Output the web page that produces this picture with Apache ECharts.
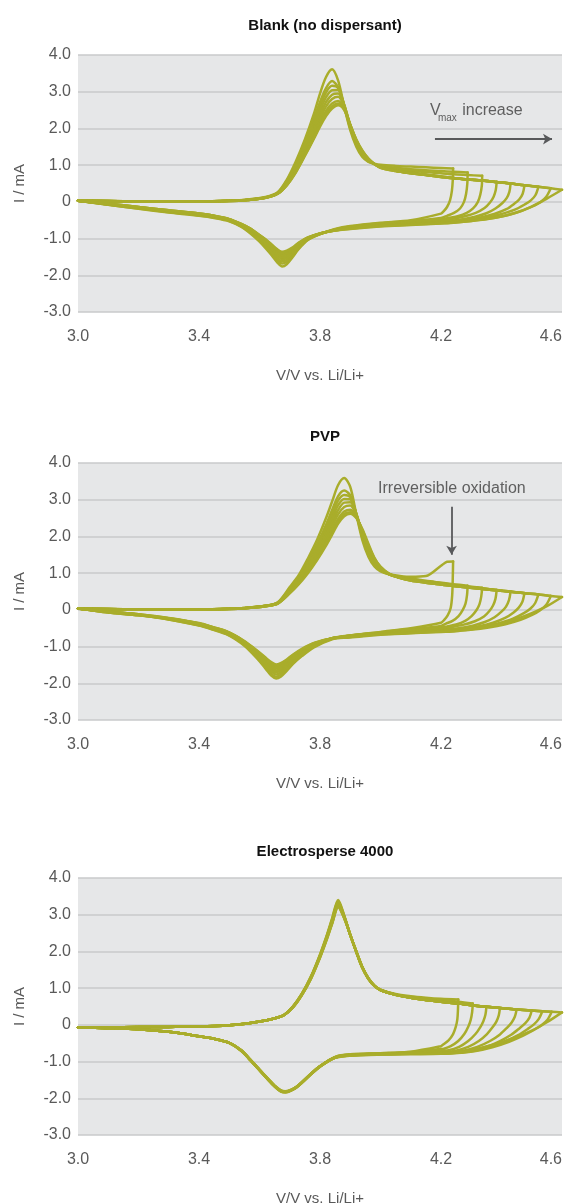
<!DOCTYPE html>
<html>
<head>
<meta charset="utf-8">
<script src="https://cdn.jsdelivr.net/npm/echarts@6/dist/echarts.min.js"></script>
<style>
html,body{margin:0;padding:0;background:#fff;}
#c{width:568px;height:1204px;}
</style>
</head>
<body>
<div id="c"></div>
<script>
// ---------- labels ----------
const panelTitles = ['Blank (no dispersant)', 'PVP', 'Electrosperse 4000'];
const xTicks = [3.0, 3.4, 3.8, 4.2, 4.6];
const xName = 'V/V vs. Li/Li+';
const yName = 'I / mA';

// ---------- Panel 1: Blank ----------
const blankAnodicV = [3.0,3.1,3.2,3.3,3.4,3.5,3.56,3.62,3.66,3.69,3.72,3.75,3.78,3.8,3.82,3.84,3.86,3.88,3.9,3.92,3.94,3.96,3.98,4.0,4.05,4.1,4.15,4.2];
const blankVmax = [4.24,4.288,4.336,4.384,4.43,4.476,4.522,4.563,4.6];
const blankAnodicI = [
 [0.04,0.02,0.01,0.01,0.01,0.03,0.06,0.13,0.26,0.6,1.1,1.7,2.4,2.95,3.4,3.61,3.3,2.6,1.95,1.5,1.22,1.09,1.04,1.01,0.98,0.96,0.94,0.92,0.91],
 [0.04,0.02,0.01,0.01,0.01,0.03,0.06,0.12,0.25,0.57,1.03,1.6,2.25,2.72,3.1,3.29,3.12,2.6,2.0,1.55,1.26,1.1,1.03,0.98,0.93,0.89,0.86,0.84,0.82,0.80],
 [0.04,0.02,0.01,0.01,0.01,0.03,0.06,0.12,0.24,0.54,0.98,1.52,2.14,2.6,2.98,3.16,3.1,2.62,2.03,1.58,1.28,1.12,1.03,0.96,0.9,0.85,0.81,0.78,0.75,0.73,0.71],
 [0.04,0.02,0.01,0.0,0.01,0.03,0.05,0.12,0.24,0.52,0.94,1.46,2.05,2.48,2.85,3.04,3.05,2.65,2.06,1.6,1.3,1.13,1.02,0.95,0.87,0.8,0.74,0.69,0.65,0.61,0.58,0.54],
 [0.04,0.02,0.01,0.0,0.01,0.03,0.05,0.11,0.23,0.5,0.9,1.4,1.96,2.37,2.72,2.92,2.95,2.64,2.08,1.63,1.33,1.15,1.03,0.95,0.86,0.79,0.74,0.69,0.65,0.61,0.58,0.54,0.5],
 [0.03,0.02,0.01,0.0,0.0,0.02,0.05,0.11,0.23,0.48,0.86,1.34,1.88,2.27,2.6,2.8,2.86,2.6,2.09,1.65,1.35,1.16,1.03,0.94,0.85,0.79,0.74,0.69,0.65,0.61,0.58,0.54,0.5,0.45],
 [0.03,0.01,0.0,0.0,0.0,0.02,0.05,0.11,0.22,0.46,0.83,1.29,1.8,2.18,2.48,2.68,2.75,2.55,2.1,1.68,1.37,1.17,1.03,0.94,0.85,0.78,0.73,0.68,0.64,0.61,0.58,0.54,0.5,0.45,0.41],
 [0.03,0.01,0.0,0.0,0.0,0.02,0.05,0.11,0.22,0.45,0.81,1.27,1.75,2.1,2.4,2.6,2.68,2.52,2.1,1.69,1.39,1.18,1.03,0.93,0.84,0.78,0.73,0.68,0.64,0.61,0.58,0.54,0.5,0.45,0.41,0.37],
 [0.03,0.01,0.0,0.0,0.0,0.02,0.05,0.11,0.22,0.45,0.8,1.25,1.72,2.05,2.34,2.54,2.63,2.5,2.1,1.7,1.4,1.18,1.03,0.93,0.84,0.78,0.73,0.68,0.64,0.61,0.58,0.54,0.5,0.45,0.41,0.37,0.33]
];
const blankReturn = [
 [[4.239,0.6],[4.236,0.3],[4.23,0.05],[4.22,-0.14],[4.207,-0.27]],
 [[4.287,0.5],[4.283,0.22],[4.276,0.0],[4.263,-0.18],[4.243,-0.3],[4.22,-0.38]],
 [[4.335,0.45],[4.33,0.2],[4.322,0.0],[4.306,-0.18],[4.285,-0.3],[4.255,-0.39],[4.225,-0.44]],
 [[4.381,0.32],[4.374,0.14],[4.362,-0.02],[4.344,-0.17],[4.315,-0.3],[4.275,-0.4],[4.235,-0.47]],
 [[4.426,0.27],[4.417,0.1],[4.403,-0.03],[4.38,-0.18],[4.35,-0.31],[4.31,-0.41],[4.26,-0.49],[4.225,-0.53]],
 [[4.47,0.22],[4.459,0.07],[4.444,-0.04],[4.416,-0.2],[4.376,-0.33],[4.326,-0.43],[4.276,-0.5],[4.235,-0.54]],
 [[4.512,0.18],[4.497,0.04],[4.477,-0.07],[4.442,-0.22],[4.392,-0.35],[4.342,-0.44],[4.285,-0.51],[4.24,-0.55]],
 [[4.548,0.14],[4.53,0.0],[4.505,-0.11],[4.465,-0.25],[4.415,-0.37],[4.36,-0.46],[4.3,-0.52],[4.245,-0.56]],
 [[4.55,0.09],[4.5,-0.13],[4.45,-0.29],[4.4,-0.4],[4.35,-0.47],[4.3,-0.52],[4.25,-0.56]]
];
const blankCathodicV = [4.2,4.1,4.0,3.9,3.85,3.8,3.76,3.73,3.71,3.69,3.675,3.66,3.64,3.62,3.6,3.57,3.54,3.5,3.45,3.4,3.3,3.2,3.1,3.0];
const blankCathodicI = [
 [-0.32,-0.5,-0.57,-0.66,-0.74,-0.88,-1.04,-1.28,-1.5,-1.7,-1.76,-1.66,-1.45,-1.26,-1.08,-0.86,-0.68,-0.53,-0.44,-0.38,-0.29,-0.19,-0.08,0.03],
 [-0.44,-0.52,-0.58,-0.67,-0.75,-0.88,-1.03,-1.26,-1.46,-1.63,-1.68,-1.6,-1.4,-1.22,-1.05,-0.84,-0.67,-0.52,-0.43,-0.37,-0.28,-0.18,-0.08,0.03],
 [-0.47,-0.54,-0.6,-0.68,-0.75,-0.88,-1.02,-1.24,-1.42,-1.58,-1.62,-1.54,-1.36,-1.18,-1.02,-0.82,-0.66,-0.51,-0.42,-0.36,-0.27,-0.17,-0.07,0.03],
 [-0.51,-0.56,-0.61,-0.69,-0.76,-0.87,-1.01,-1.21,-1.38,-1.52,-1.56,-1.48,-1.31,-1.14,-0.99,-0.8,-0.64,-0.5,-0.41,-0.35,-0.26,-0.16,-0.07,0.03],
 [-0.54,-0.58,-0.63,-0.7,-0.77,-0.87,-1.0,-1.19,-1.35,-1.47,-1.5,-1.43,-1.27,-1.11,-0.97,-0.78,-0.63,-0.49,-0.4,-0.34,-0.25,-0.16,-0.06,0.03],
 [-0.56,-0.6,-0.64,-0.71,-0.77,-0.87,-0.99,-1.16,-1.31,-1.42,-1.45,-1.38,-1.23,-1.07,-0.94,-0.76,-0.62,-0.48,-0.39,-0.33,-0.24,-0.15,-0.06,0.03],
 [-0.57,-0.61,-0.65,-0.72,-0.78,-0.86,-0.98,-1.14,-1.28,-1.38,-1.41,-1.34,-1.19,-1.04,-0.92,-0.74,-0.61,-0.47,-0.38,-0.32,-0.23,-0.14,-0.05,0.03],
 [-0.58,-0.62,-0.66,-0.73,-0.78,-0.86,-0.97,-1.12,-1.26,-1.35,-1.38,-1.32,-1.17,-1.03,-0.91,-0.73,-0.6,-0.47,-0.38,-0.32,-0.23,-0.14,-0.05,0.03],
 [-0.59,-0.63,-0.67,-0.74,-0.78,-0.86,-0.97,-1.11,-1.24,-1.33,-1.36,-1.3,-1.16,-1.02,-0.9,-0.73,-0.6,-0.47,-0.38,-0.32,-0.23,-0.14,-0.05,0.03]
];

// ---------- Panel 2: PVP ----------
const pvpAnodicV = [3.0,3.1,3.2,3.3,3.4,3.5,3.56,3.62,3.66,3.7,3.73,3.76,3.79,3.82,3.84,3.86,3.88,3.9,3.92,3.94,3.96,3.98,4.0,4.03,4.06,4.1,4.15,4.2,4.22];
const pvpVmax = [4.24,4.288,4.336,4.384,4.43,4.476,4.522,4.563,4.6];
const pvpAnodicI = [
 [0.04,0.02,0.01,0.01,0.01,0.03,0.06,0.11,0.2,0.62,0.95,1.4,1.9,2.5,2.95,3.4,3.59,3.35,2.6,1.9,1.45,1.18,1.05,0.97,0.93,0.9,0.92,1.2,1.31,1.32],
 [0.04,0.02,0.01,0.01,0.01,0.03,0.06,0.11,0.2,0.58,0.9,1.32,1.78,2.32,2.72,3.1,3.25,3.12,2.6,1.98,1.52,1.23,1.07,0.96,0.9,0.85,0.79,0.74,0.72,0.7,0.66],
 [0.04,0.02,0.01,0.01,0.01,0.03,0.06,0.11,0.19,0.56,0.87,1.27,1.71,2.22,2.6,2.98,3.13,3.07,2.62,2.03,1.56,1.26,1.09,0.96,0.89,0.84,0.78,0.73,0.71,0.68,0.64,0.6],
 [0.04,0.02,0.01,0.0,0.01,0.03,0.05,0.11,0.19,0.53,0.83,1.22,1.64,2.13,2.48,2.85,3.02,3.01,2.62,2.07,1.6,1.3,1.11,0.96,0.89,0.83,0.77,0.72,0.7,0.67,0.63,0.59,0.54],
 [0.04,0.02,0.01,0.0,0.01,0.03,0.05,0.11,0.18,0.51,0.8,1.17,1.57,2.04,2.37,2.72,2.92,2.93,2.6,2.1,1.64,1.33,1.13,0.97,0.89,0.82,0.76,0.71,0.69,0.66,0.62,0.58,0.54,0.5],
 [0.03,0.02,0.01,0.0,0.0,0.02,0.05,0.1,0.18,0.49,0.77,1.12,1.5,1.95,2.27,2.6,2.8,2.84,2.57,2.12,1.68,1.36,1.15,0.97,0.89,0.81,0.75,0.7,0.68,0.66,0.62,0.58,0.54,0.5,0.46],
 [0.03,0.01,0.0,0.0,0.0,0.02,0.05,0.1,0.17,0.47,0.74,1.07,1.44,1.86,2.17,2.48,2.68,2.73,2.54,2.15,1.72,1.38,1.16,0.97,0.88,0.8,0.74,0.69,0.67,0.65,0.61,0.57,0.53,0.49,0.45,0.42],
 [0.03,0.01,0.0,0.0,0.0,0.02,0.05,0.1,0.17,0.46,0.72,1.03,1.39,1.8,2.1,2.41,2.61,2.66,2.52,2.18,1.76,1.4,1.17,0.97,0.88,0.8,0.74,0.69,0.67,0.65,0.61,0.57,0.53,0.49,0.45,0.42,0.38],
 [0.03,0.01,0.0,0.0,0.0,0.02,0.05,0.1,0.17,0.45,0.7,1.0,1.35,1.75,2.05,2.35,2.55,2.62,2.5,2.2,1.8,1.42,1.18,0.98,0.88,0.8,0.74,0.69,0.67,0.65,0.61,0.57,0.53,0.49,0.45,0.42,0.38,0.35]
];
const pvpReturn = [
 [[4.239,0.9],[4.237,0.4],[4.232,0.05],[4.222,-0.15],[4.21,-0.28]],
 [[4.286,0.4],[4.281,0.17],[4.272,0.0],[4.258,-0.17],[4.238,-0.3],[4.215,-0.38]],
 [[4.333,0.36],[4.327,0.15],[4.317,-0.01],[4.301,-0.17],[4.28,-0.3],[4.25,-0.4],[4.22,-0.45]],
 [[4.38,0.3],[4.372,0.12],[4.36,-0.03],[4.342,-0.18],[4.312,-0.31],[4.272,-0.41],[4.232,-0.47]],
 [[4.425,0.27],[4.415,0.09],[4.4,-0.05],[4.377,-0.2],[4.345,-0.33],[4.305,-0.43],[4.26,-0.5],[4.225,-0.53]],
 [[4.469,0.22],[4.457,0.06],[4.44,-0.07],[4.412,-0.22],[4.372,-0.35],[4.322,-0.45],[4.272,-0.51],[4.232,-0.55]],
 [[4.511,0.18],[4.495,0.03],[4.474,-0.09],[4.438,-0.24],[4.388,-0.37],[4.338,-0.46],[4.282,-0.52],[4.237,-0.56]],
 [[4.548,0.14],[4.528,-0.01],[4.503,-0.13],[4.463,-0.27],[4.413,-0.39],[4.358,-0.48],[4.298,-0.54],[4.243,-0.57]],
 [[4.55,0.1],[4.5,-0.09],[4.45,-0.25],[4.4,-0.38],[4.35,-0.47],[4.3,-0.53],[4.25,-0.58]]
];
const pvpCathodicV = [4.2,4.1,4.0,3.9,3.84,3.78,3.74,3.71,3.69,3.67,3.655,3.64,3.62,3.6,3.58,3.55,3.52,3.49,3.45,3.4,3.3,3.2,3.1,3.0];
const pvpCathodicI = [
 [-0.35,-0.5,-0.6,-0.7,-0.8,-1.02,-1.26,-1.48,-1.66,-1.82,-1.87,-1.8,-1.6,-1.4,-1.22,-0.98,-0.8,-0.66,-0.55,-0.43,-0.26,-0.15,-0.07,0.04],
 [-0.44,-0.52,-0.61,-0.7,-0.79,-1.0,-1.24,-1.45,-1.62,-1.77,-1.82,-1.75,-1.56,-1.37,-1.2,-0.96,-0.78,-0.65,-0.54,-0.42,-0.26,-0.15,-0.07,0.04],
 [-0.48,-0.54,-0.62,-0.7,-0.78,-0.98,-1.21,-1.41,-1.57,-1.71,-1.76,-1.69,-1.51,-1.33,-1.17,-0.94,-0.77,-0.64,-0.53,-0.41,-0.25,-0.14,-0.06,0.04],
 [-0.51,-0.56,-0.63,-0.7,-0.77,-0.96,-1.18,-1.37,-1.52,-1.65,-1.7,-1.63,-1.46,-1.29,-1.14,-0.92,-0.75,-0.62,-0.52,-0.4,-0.25,-0.14,-0.06,0.04],
 [-0.55,-0.58,-0.64,-0.71,-0.77,-0.95,-1.15,-1.34,-1.48,-1.6,-1.65,-1.58,-1.42,-1.26,-1.11,-0.9,-0.74,-0.61,-0.51,-0.39,-0.24,-0.13,-0.05,0.04],
 [-0.57,-0.61,-0.65,-0.72,-0.77,-0.93,-1.12,-1.3,-1.44,-1.55,-1.6,-1.53,-1.38,-1.23,-1.08,-0.88,-0.72,-0.6,-0.5,-0.38,-0.24,-0.13,-0.05,0.04],
 [-0.58,-0.62,-0.66,-0.73,-0.77,-0.92,-1.1,-1.27,-1.4,-1.51,-1.56,-1.49,-1.35,-1.2,-1.06,-0.87,-0.71,-0.59,-0.49,-0.37,-0.23,-0.13,-0.05,0.04],
 [-0.59,-0.63,-0.67,-0.74,-0.78,-0.91,-1.08,-1.24,-1.37,-1.47,-1.52,-1.46,-1.32,-1.18,-1.04,-0.86,-0.7,-0.58,-0.48,-0.37,-0.23,-0.12,-0.05,0.04],
 [-0.6,-0.64,-0.68,-0.75,-0.78,-0.9,-1.06,-1.22,-1.35,-1.45,-1.49,-1.43,-1.3,-1.16,-1.03,-0.85,-0.7,-0.58,-0.48,-0.36,-0.22,-0.12,-0.05,0.04]
];

// ---------- Panel 3: Electrosperse 4000 ----------
const esAnodicV = [3.0,3.1,3.2,3.3,3.4,3.5,3.56,3.62,3.66,3.68,3.71,3.74,3.77,3.8,3.82,3.84,3.86,3.88,3.9,3.92,3.94,3.96,3.98,4.0,4.05,4.1,4.15,4.2];
const esVmax = [4.257,4.305,4.35,4.395,4.45,4.5,4.535,4.566,4.6];
const esAnodicI = [
 [-0.07,-0.065,-0.06,-0.055,-0.045,-0.01,0.04,0.12,0.2,0.26,0.5,0.85,1.32,1.92,2.38,2.9,3.4,2.98,2.45,1.98,1.55,1.25,1.06,0.96,0.84,0.78,0.74,0.71,0.69],
 [-0.07,-0.065,-0.06,-0.055,-0.045,-0.01,0.04,0.12,0.2,0.26,0.49,0.84,1.3,1.9,2.36,2.87,3.37,2.97,2.45,1.98,1.55,1.25,1.06,0.95,0.83,0.76,0.71,0.67,0.63,0.58],
 [-0.07,-0.065,-0.06,-0.055,-0.045,-0.01,0.04,0.12,0.2,0.26,0.49,0.84,1.3,1.89,2.35,2.85,3.34,2.96,2.45,1.99,1.56,1.26,1.06,0.95,0.82,0.74,0.68,0.63,0.58,0.53,0.49],
 [-0.07,-0.065,-0.06,-0.055,-0.045,-0.01,0.04,0.12,0.2,0.26,0.48,0.83,1.29,1.88,2.33,2.83,3.31,2.95,2.45,1.99,1.56,1.26,1.06,0.95,0.82,0.74,0.68,0.63,0.58,0.53,0.49,0.46],
 [-0.07,-0.065,-0.06,-0.055,-0.045,-0.01,0.04,0.12,0.2,0.26,0.48,0.83,1.28,1.87,2.32,2.81,3.29,2.94,2.45,1.99,1.56,1.26,1.06,0.95,0.82,0.74,0.68,0.63,0.58,0.53,0.49,0.46,0.42],
 [-0.07,-0.065,-0.06,-0.055,-0.045,-0.01,0.04,0.12,0.2,0.26,0.48,0.82,1.28,1.86,2.31,2.8,3.27,2.93,2.45,2.0,1.57,1.26,1.06,0.95,0.82,0.74,0.68,0.63,0.58,0.53,0.49,0.46,0.42,0.39],
 [-0.07,-0.065,-0.06,-0.055,-0.045,-0.01,0.04,0.12,0.2,0.26,0.47,0.82,1.27,1.85,2.3,2.78,3.25,2.92,2.45,2.0,1.57,1.27,1.07,0.95,0.82,0.74,0.68,0.63,0.58,0.53,0.49,0.46,0.42,0.39,0.37],
 [-0.07,-0.065,-0.06,-0.055,-0.045,-0.01,0.04,0.12,0.2,0.26,0.47,0.81,1.26,1.84,2.28,2.76,3.22,2.91,2.45,2.0,1.57,1.27,1.07,0.95,0.82,0.74,0.68,0.63,0.58,0.53,0.49,0.46,0.42,0.39,0.37,0.355],
 [-0.07,-0.065,-0.06,-0.055,-0.045,-0.01,0.04,0.12,0.2,0.26,0.47,0.81,1.25,1.83,2.27,2.75,3.2,2.9,2.45,2.0,1.58,1.27,1.07,0.95,0.82,0.74,0.68,0.63,0.58,0.53,0.49,0.46,0.42,0.39,0.37,0.355,0.34]
];
const esReturn = [
 [[4.256,0.4],[4.254,0.15],[4.249,-0.05],[4.24,-0.25],[4.225,-0.42],[4.205,-0.55]],
 [[4.303,0.35],[4.298,0.13],[4.29,-0.05],[4.277,-0.25],[4.257,-0.44],[4.232,-0.58],[4.21,-0.65]],
 [[4.347,0.28],[4.34,0.1],[4.33,-0.06],[4.314,-0.25],[4.29,-0.44],[4.26,-0.6],[4.225,-0.69]],
 [[4.391,0.26],[4.383,0.09],[4.371,-0.06],[4.352,-0.25],[4.325,-0.44],[4.29,-0.6],[4.245,-0.71]],
 [[4.444,0.22],[4.433,0.06],[4.418,-0.08],[4.395,-0.26],[4.362,-0.44],[4.32,-0.6],[4.27,-0.71],[4.23,-0.75]],
 [[4.492,0.19],[4.478,0.04],[4.46,-0.09],[4.432,-0.27],[4.395,-0.44],[4.345,-0.61],[4.29,-0.72],[4.24,-0.76]],
 [[4.524,0.17],[4.508,0.02],[4.487,-0.11],[4.455,-0.28],[4.412,-0.45],[4.36,-0.61],[4.3,-0.72],[4.245,-0.77]],
 [[4.552,0.14],[4.532,-0.01],[4.507,-0.14],[4.47,-0.3],[4.425,-0.46],[4.37,-0.61],[4.31,-0.72],[4.25,-0.77]],
 [[4.55,0.07],[4.5,-0.16],[4.45,-0.33],[4.4,-0.47],[4.35,-0.59],[4.3,-0.69],[4.25,-0.76]]
];
const esCathodicV = [4.2,4.1,4.0,3.9,3.85,3.8,3.77,3.74,3.72,3.7,3.685,3.67,3.65,3.63,3.6,3.57,3.54,3.5,3.45,3.4,3.3,3.2,3.1,3.0];
const esCathodicI = [
 [-0.58,-0.73,-0.77,-0.8,-0.87,-1.12,-1.33,-1.57,-1.7,-1.79,-1.82,-1.8,-1.67,-1.5,-1.23,-0.96,-0.7,-0.49,-0.38,-0.31,-0.19,-0.12,-0.09,-0.07],
 [-0.66,-0.74,-0.78,-0.81,-0.88,-1.13,-1.33,-1.57,-1.71,-1.8,-1.83,-1.8,-1.67,-1.5,-1.23,-0.96,-0.7,-0.49,-0.38,-0.31,-0.19,-0.12,-0.09,-0.07],
 [-0.7,-0.75,-0.78,-0.81,-0.88,-1.13,-1.34,-1.58,-1.71,-1.8,-1.83,-1.81,-1.68,-1.51,-1.24,-0.96,-0.71,-0.49,-0.38,-0.31,-0.19,-0.12,-0.09,-0.07],
 [-0.73,-0.76,-0.79,-0.82,-0.89,-1.13,-1.34,-1.58,-1.72,-1.81,-1.84,-1.81,-1.68,-1.51,-1.24,-0.97,-0.71,-0.5,-0.38,-0.31,-0.19,-0.12,-0.09,-0.07],
 [-0.76,-0.77,-0.79,-0.82,-0.89,-1.14,-1.35,-1.58,-1.72,-1.8,-1.83,-1.8,-1.67,-1.5,-1.23,-0.96,-0.7,-0.49,-0.38,-0.31,-0.19,-0.12,-0.09,-0.07],
 [-0.77,-0.78,-0.8,-0.83,-0.89,-1.14,-1.35,-1.57,-1.71,-1.8,-1.82,-1.8,-1.67,-1.5,-1.23,-0.96,-0.7,-0.49,-0.38,-0.31,-0.19,-0.12,-0.09,-0.07],
 [-0.78,-0.79,-0.8,-0.83,-0.89,-1.13,-1.34,-1.57,-1.71,-1.79,-1.82,-1.79,-1.66,-1.49,-1.22,-0.95,-0.7,-0.49,-0.38,-0.31,-0.19,-0.12,-0.09,-0.07],
 [-0.78,-0.79,-0.81,-0.83,-0.89,-1.13,-1.34,-1.56,-1.7,-1.79,-1.81,-1.79,-1.66,-1.49,-1.22,-0.95,-0.7,-0.49,-0.38,-0.31,-0.19,-0.12,-0.09,-0.07],
 [-0.79,-0.8,-0.81,-0.84,-0.9,-1.13,-1.33,-1.56,-1.7,-1.78,-1.81,-1.78,-1.65,-1.48,-1.22,-0.95,-0.69,-0.49,-0.38,-0.31,-0.19,-0.12,-0.09,-0.07]
];

// ---------- annotations (data coordinates) ----------
const blankArrow = [[4.18, 1.71], [4.567, 1.71]];
const pvpArrow = [[4.235, 2.81], [4.235, 1.5]];
const blankNoteV = [4.164, 2.49];
const blankNoteSub = [4.19, 2.27];
const blankNoteText = [4.27, 2.49];
const pvpNote = [4.236, 3.3];

// ---------- chart ----------
const FONT = '"Liberation Sans", Arial, Helvetica, sans-serif';
const LINE = '#a9ad2b';
const TXT = '#595959';
const gridTops = [55, 463, 878];
const titleTops = [13, 424, 839];

const panels = [
  {av: blankAnodicV, vmax: blankVmax, ai: blankAnodicI, ret: blankReturn, cv: blankCathodicV, ci: blankCathodicI, arrow: blankArrow},
  {av: pvpAnodicV, vmax: pvpVmax, ai: pvpAnodicI, ret: pvpReturn, cv: pvpCathodicV, ci: pvpCathodicI, arrow: pvpArrow},
  {av: esAnodicV, vmax: esVmax, ai: esAnodicI, ret: esReturn, cv: esCathodicV, ci: esCathodicI, arrow: null}
];

const series = [];
panels.forEach((p, pi) => {
  const ax = p.av.concat(p.vmax);
  p.ai.forEach((arr, k) => {
    const anodic = arr.map((y, i) => [ax[i], y]);
    const vertex = anodic[anodic.length - 1];
    const cathodic = [vertex].concat(p.ret[k], p.ci[k].map((y, i) => [p.cv[i], y]));
    const base = {
      type: 'line', xAxisIndex: pi, yAxisIndex: pi, symbol: 'none', showSymbol: false,
      smooth: 0.3, silent: true, animation: false,
      lineStyle: {color: LINE, width: 2.5, cap: 'round', join: 'round'}, z: 2
    };
    const sA = Object.assign({}, base, {data: anodic});
    if (k === 0 && p.arrow) {
      sA.markLine = {
        silent: true, animation: false, symbol: ['none', 'arrow'], symbolSize: [8, 9],
        label: {show: false},
        lineStyle: {color: '#58595b', width: 1.8, type: 'solid'},
        emphasis: {disabled: true},
        data: [[{coord: p.arrow[0]}, {coord: p.arrow[1]}]]
      };
    }
    series.push(sA);
    series.push(Object.assign({}, base, {data: cathodic}));
  });
});

const chart = echarts.init(document.getElementById('c'), null, {renderer: 'canvas', width: 568, height: 1204});
const option = {
  animation: false,
  backgroundColor: '#ffffff',
  title: panelTitles.map((t, i) => ({
    text: t, left: 320, top: titleTops[i], textAlign: 'center',
    textStyle: {fontFamily: FONT, fontSize: 15, fontWeight: 'bold', color: '#111111'}
  })),
  grid: gridTops.map(t => ({left: 78, right: 6, top: t, height: 257, show: true, backgroundColor: '#e6e7e8', borderWidth: 0,
    containLabel: false, outerBoundsMode: 'none'})),
  xAxis: gridTops.map((t, i) => ({
    gridIndex: i, type: 'value', min: 3.0, max: 4.6,
    axisLine: {show: false, onZero: false}, axisTick: {show: false}, splitLine: {show: false},
    axisLabel: {customValues: xTicks, formatter: v => v.toFixed(1), color: TXT, fontSize: 16, fontFamily: FONT, margin: 17,
      alignMaxLabel: 'right'},
    name: xName, nameLocation: 'middle', nameGap: 56,
    nameTextStyle: {color: TXT, fontSize: 15, fontFamily: FONT}
  })),
  yAxis: gridTops.map((t, i) => ({
    gridIndex: i, type: 'value', min: -3, max: 4, interval: 1,
    axisLine: {show: false}, axisTick: {show: false},
    splitLine: {show: true, lineStyle: {color: '#c9cacb', width: 1.5}},
    axisLabel: {formatter: v => (v === 0 ? '0' : v.toFixed(1)), color: TXT, fontSize: 16, fontFamily: FONT, margin: 7},
    name: yName, nameLocation: 'middle', nameGap: 51,
    nameTextStyle: {color: TXT, fontSize: 15, fontFamily: FONT}
  })),
  series: series
};
chart.setOption(option);

function txt(pos, grid, text, size, align) {
  const px = chart.convertToPixel({gridIndex: grid}, pos);
  return {
    type: 'text', x: px[0], y: px[1], silent: true, z: 10,
    style: {text: text, fontSize: size, fontFamily: FONT, fill: '#5f5f5f',
      textAlign: align, align: align, textVerticalAlign: 'middle', verticalAlign: 'middle'}
  };
}
chart.setOption({
  graphic: [
    txt(blankNoteV, 0, 'V', 16, 'left'),
    txt(blankNoteSub, 0, 'max', 10, 'left'),
    txt(blankNoteText, 0, 'increase', 16, 'left'),
    txt(pvpNote, 1, 'Irreversible oxidation', 16, 'center')
  ]
});
</script>
</body>
</html>
